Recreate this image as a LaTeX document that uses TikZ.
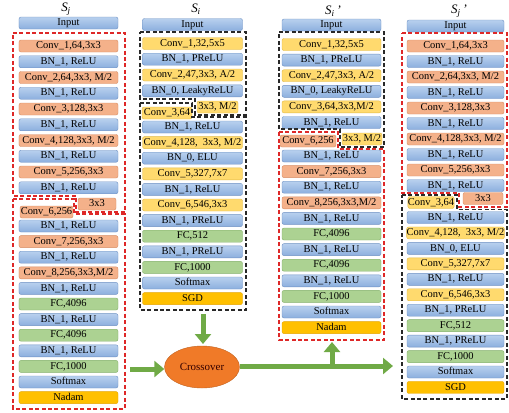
\documentclass[tikz,border=0pt]{standalone}
\usepackage{fontspec}
\setmainfont{Liberation Serif}
\usetikzlibrary{arrows.meta,shapes.geometric}
\definecolor{convc}{RGB}{244,177,138}
\definecolor{convd}{RGB}{214,140,100}
\definecolor{bnt}{RGB}{184,208,238}
\definecolor{bnb}{RGB}{140,175,222}
\definecolor{bnd}{RGB}{110,145,195}
\definecolor{fcc}{RGB}{172,210,146}
\definecolor{fcd}{RGB}{130,175,105}
\definecolor{yelc}{RGB}{255,218,110}
\definecolor{yeld}{RGB}{225,185,70}
\definecolor{optc}{RGB}{255,192,0}
\definecolor{optd}{RGB}{230,165,0}
\definecolor{redd}{RGB}{222,40,40}
\definecolor{blkd}{RGB}{40,40,40}
\definecolor{arrg}{RGB}{112,170,70}
\definecolor{crossc}{RGB}{240,122,40}
\newcommand\bx[6]{\node[#1, minimum width=#2bp] (#3) at (#4,#5) {#6};}
\begin{document}
\begin{tikzpicture}[x=1bp,y=-1bp,
  box/.style={rounded corners=2bp, minimum height=12bp, inner sep=0pt, line width=0.4pt,
    font=\fontsize{10.5}{10.5}\selectfont, text height=6.9bp, text depth=1.7bp},
  conv/.style={box, fill=convc, draw=convd},
  bn/.style={box, top color=bnt, bottom color=bnb, draw=bnd},
  fc/.style={box, fill=fcc, draw=fcd},
  yel/.style={box, fill=yelc, draw=yeld},
  opt/.style={box, fill=optc, draw=optd},
  reddash/.style={draw=redd, line width=1.1pt, dash pattern=on 4pt off 2.5pt},
  blkdash/.style={draw=blkd, line width=1.1pt, dash pattern=on 4pt off 2.5pt},
  garrow/.style={draw=arrg, line width=5bp, -{Triangle[width=16bp,length=10bp]}},
  lab/.style={font=\fontsize{13}{13}\selectfont\itshape, inner sep=0pt}]
\useasboundingbox (0,0) rectangle (509,412);

% ---------- labels
\node[lab] (l1) at (66,9) {S\textsubscript{j}};
\node[lab] (l2) at (196,9) {S\textsubscript{i}};
\node[lab] (l3) at (333,11) {S\textsubscript{i}\,'};
\node[lab] (l4) at (459,11) {S\textsubscript{j}\,'};

% ---------- column 1
\bx{bn}{99}{a0}{68.5}{23}{Input}
\bx{conv}{99}{a1}{68.5}{46}{Conv\_1,64,3x3}
\bx{bn}{99}{a2}{68.5}{61.75}{BN\_1, ReLU}
\bx{conv}{99}{a3}{68.5}{77.5}{Conv\_2,64,3x3, M/2}
\bx{bn}{99}{a4}{68.5}{93.25}{BN\_1, ReLU}
\bx{conv}{99}{a5}{68.5}{109}{Conv\_3,128,3x3}
\bx{bn}{99}{a6}{68.5}{124.75}{BN\_1, ReLU}
\bx{conv}{99}{a7}{68.5}{140.5}{Conv\_4,128,3x3, M/2}
\bx{bn}{99}{a8}{68.5}{156.25}{BN\_1, ReLU}
\bx{conv}{99}{a9}{68.5}{172}{Conv\_5,256,3x3}
\bx{bn}{99}{a10}{68.5}{187.75}{BN\_1, ReLU}
\bx{conv}{38}{a11}{97}{204}{3x3}
\bx{conv}{53}{a12}{46.5}{212}{Conv\_6,256}
\bx{bn}{99}{a13}{68.5}{226}{BN\_1, ReLU}
\bx{conv}{99}{a14}{68.5}{241.6}{Conv\_7,256,3x3}
\bx{bn}{99}{a15}{68.5}{257.2}{BN\_1, ReLU}
\bx{conv}{99}{a16}{68.5}{272.8}{Conv\_8,256,3x3,M/2}
\bx{bn}{99}{a17}{68.5}{288.4}{BN\_1, ReLU}
\bx{fc}{99}{a18}{68.5}{304}{FC,4096}
\bx{bn}{99}{a19}{68.5}{319.6}{BN\_1, ReLU}
\bx{fc}{99}{a20}{68.5}{335.2}{FC,4096}
\bx{bn}{99}{a21}{68.5}{350.8}{BN\_1, ReLU}
\bx{fc}{99}{a22}{68.5}{366.4}{FC,1000}
\bx{bn}{99}{a23}{68.5}{382}{Softmax}
\bx{opt}{99}{a24}{68.5}{397.6}{Nadam}
\draw[reddash] (13,33) -- (125,33) -- (125,212) -- (76,212) -- (76,196) -- (13,196) -- cycle;
\draw[reddash] (13,199) -- (74,199) -- (74,214) -- (125,214) -- (125,409) -- (13,409) -- cycle;

% ---------- column 2
\bx{bn}{100}{b0}{192.5}{24.5}{Input}
\bx{yel}{100}{b1}{192.5}{43.5}{Conv\_1,32,5x5}
\bx{bn}{100}{b2}{192.5}{59.2}{BN\_1, PReLU}
\bx{yel}{100}{b3}{192.5}{75}{Conv\_2,47,3x3, A/2}
\bx{bn}{100}{b4}{192.5}{90.8}{BN\_0, LeakyReLU}
\bx{yel}{41}{b5}{217.5}{107}{3x3, M/2}
\bx{yel}{50}{b6}{167}{113}{Conv\_3,64}
\bx{bn}{100}{b7}{192.5}{127}{BN\_1, ReLU}
\bx{yel}{100}{b8}{192.5}{142.6}{Conv\_4,128,\ \ 3x3, M/2}
\bx{bn}{100}{b9}{192.5}{158.2}{BN\_0, ELU}
\bx{yel}{100}{b10}{192.5}{173.8}{Conv\_5,327,7x7}
\bx{bn}{100}{b11}{192.5}{189.4}{BN\_1, ReLU}
\bx{yel}{100}{b12}{192.5}{205}{Conv\_6,546,3x3}
\bx{bn}{100}{b13}{192.5}{220.6}{BN\_1, PReLU}
\bx{fc}{100}{b14}{192.5}{236.2}{FC,512}
\bx{bn}{100}{b15}{192.5}{251.8}{BN\_1, PReLU}
\bx{fc}{100}{b16}{192.5}{267.4}{FC,1000}
\bx{bn}{100}{b17}{192.5}{283}{Softmax}
\bx{opt}{100}{b18}{192.5}{298.6}{SGD}
\draw[blkdash] (140,32) -- (246,32) -- (246,115) -- (195,115) -- (195,99) -- (140,99) -- cycle;
\draw[blkdash] (140,103) -- (192,103) -- (192,117) -- (246,117) -- (246,310) -- (140,310) -- cycle;

% ---------- column 3
\bx{bn}{99}{c0}{331.5}{25}{Input}
\bx{yel}{99}{c1}{331.5}{44.5}{Conv\_1,32,5x5}
\bx{bn}{99}{c2}{331.5}{60.1}{BN\_1, PReLU}
\bx{yel}{99}{c3}{331.5}{75.7}{Conv\_2,47,3x3, A/2}
\bx{bn}{99}{c4}{331.5}{91.3}{BN\_0, LeakyReLU}
\bx{yel}{99}{c5}{331.5}{106.9}{Conv\_3,64,3x3,M/2}
\bx{bn}{99}{c6}{331.5}{122.5}{BN\_1, ReLU}
\bx{yel}{40}{c7}{362}{139}{3x3, M/2}
\bx{conv}{56}{c8}{308}{141}{Conv\_6,256}
\bx{bn}{99}{c9}{331.5}{156}{BN\_1, ReLU}
\bx{conv}{99}{c10}{331.5}{171.6}{Conv\_7,256,3x3}
\bx{bn}{99}{c11}{331.5}{187.2}{BN\_1, ReLU}
\bx{conv}{99}{c12}{331.5}{202.8}{Conv\_8,256,3x3,M/2}
\bx{bn}{99}{c13}{331.5}{218.4}{BN\_1, ReLU}
\bx{fc}{99}{c14}{331.5}{234}{FC,4096}
\bx{bn}{99}{c15}{331.5}{249.6}{BN\_1, ReLU}
\bx{fc}{99}{c16}{331.5}{265.2}{FC,4096}
\bx{bn}{99}{c17}{331.5}{280.8}{BN\_1, ReLU}
\bx{fc}{99}{c18}{331.5}{296.4}{FC,1000}
\bx{bn}{99}{c19}{331.5}{312}{Softmax}
\bx{opt}{99}{c20}{331.5}{327.6}{Nadam}
\draw[blkdash] (279,32) -- (384,32) -- (384,147) -- (340,147) -- (340,129) -- (279,129) -- cycle;
\draw[reddash] (279,132) -- (338,132) -- (338,149) -- (384,149) -- (384,340) -- (279,340) -- cycle;

% ---------- column 4
\bx{bn}{97}{d0}{455.5}{26}{Input}
\bx{conv}{97}{d1}{455.5}{46}{Conv\_1,64,3x3}
\bx{bn}{97}{d2}{455.5}{61.5}{BN\_1, ReLU}
\bx{conv}{97}{d3}{455.5}{77}{Conv\_2,64,3x3, M/2}
\bx{bn}{97}{d4}{455.5}{92.5}{BN\_1, ReLU}
\bx{conv}{97}{d5}{455.5}{108}{Conv\_3,128,3x3}
\bx{bn}{97}{d6}{455.5}{123.5}{BN\_1, ReLU}
\bx{conv}{97}{d7}{455.5}{139}{Conv\_4,128,3x3, M/2}
\bx{bn}{97}{d8}{455.5}{154.5}{BN\_1, ReLU}
\bx{conv}{97}{d9}{455.5}{170}{Conv\_5,256,3x3}
\bx{bn}{97}{d10}{455.5}{185.5}{BN\_1, ReLU}
\bx{conv}{40}{d11}{483}{198.5}{3x3}
\bx{yel}{46}{d12}{431}{202.5}{Conv\_3,64}
\bx{bn}{97}{d13}{455.5}{217.5}{BN\_1, ReLU}
\bx{yel}{97}{d14}{455.5}{232.95}{Conv\_4,128,\ \ 3x3, M/2}
\bx{bn}{97}{d15}{455.5}{248.4}{BN\_0, ELU}
\bx{yel}{97}{d16}{455.5}{263.85}{Conv\_5,327,7x7}
\bx{bn}{97}{d17}{455.5}{279.3}{BN\_1, ReLU}
\bx{yel}{97}{d18}{455.5}{294.75}{Conv\_6,546,3x3}
\bx{bn}{97}{d19}{455.5}{310.2}{BN\_1, PReLU}
\bx{fc}{97}{d20}{455.5}{325.65}{FC,512}
\bx{bn}{97}{d21}{455.5}{341.1}{BN\_1, PReLU}
\bx{fc}{97}{d22}{455.5}{356.55}{FC,1000}
\bx{bn}{97}{d23}{455.5}{372}{Softmax}
\bx{opt}{97}{d24}{455.5}{387.45}{SGD}
\draw[reddash] (402,33) -- (507,33) -- (507,207) -- (459,207) -- (459,193) -- (402,193) -- cycle;
\draw[blkdash] (402,195) -- (457,195) -- (457,209.5) -- (507,209.5) -- (507,399) -- (402,399) -- cycle;

% ---------- crossover
\node[ellipse, minimum width=75bp, minimum height=42bp, inner sep=0pt,
  fill=crossc, draw=crossc!80!black, line width=0.4pt,
  font=\fontsize{11}{11}\selectfont, text=black!80!red] (cross) at (202,367) {Crossover};
\coordinate (s1) at (203,314);
\coordinate (s2) at (130,369);
\coordinate (s3) at (393,366);
\coordinate (s4) at (332,368);
\coordinate (s5) at (332,342);
\draw[garrow] (s1) -- (203,344);
\draw[garrow] (s2) -- (cross.west |- s2);
\draw[garrow] (cross.east |- s3) -- (s3);
\draw[garrow] (s4) -- (s5);
\end{tikzpicture}
\end{document}
